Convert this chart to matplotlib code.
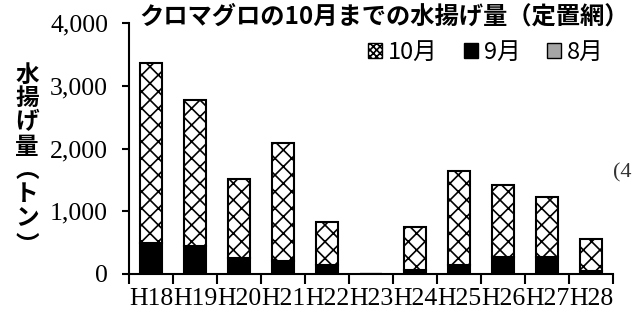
import matplotlib
matplotlib.use("Agg")
import matplotlib.pyplot as plt
from matplotlib.patches import Patch
import numpy as np

categories = ["H18", "H19", "H20", "H21", "H22", "H23", "H24", "H25", "H26", "H27", "H28"]
aug = [0, 0, 0, 0, 0, 0, 0, 0, 0, 0, 0]
sep = [500, 450, 260, 215, 145, 0, 70, 150, 270, 270, 50]
oct_ = [2870, 2320, 1250, 1865, 680, 0, 675, 1490, 1145, 955, 500]
yticks = [0, 1000, 2000, 3000, 4000]
title = "クロマグロの10月までの水揚げ量（定置網）"
ylabel_chars = ["水", "揚", "げ", "量", "︵", "ト", "ン", "︶"]

plt.rcParams['hatch.color'] = '#444444'
plt.rcParams['hatch.linewidth'] = 1.2

W, H = 633, 311
fig = plt.figure(figsize=(W / 100, H / 100), dpi=100)
ax = fig.add_axes([129 / W, 1 - 274 / H, (613 - 129) / W, (274 - 23) / H])

x = np.arange(len(categories))
aug_a = np.array(aug, float)
sep_a = np.array(sep, float)
oct_a = np.array(oct_, float)
bw = 0.52
ax.bar(x, aug_a, bw, color='#a6a6a6', edgecolor='black', linewidth=1.5)
ax.bar(x, sep_a, bw, bottom=aug_a, color='black', edgecolor='black', linewidth=1.5)
ax.bar(x, oct_a, bw, bottom=aug_a + sep_a, color='white', edgecolor='black',
       linewidth=1.5, hatch='xx')

ax.set_xlim(-0.5, len(categories) - 0.5)
ax.set_ylim(0, 4000)
ax.set_yticks(yticks)
ax.set_yticklabels([f"{v:,}" for v in yticks], fontfamily='Liberation Serif', fontsize=18.5)
ax.set_xticks(x)
ax.set_xticklabels(categories, fontfamily='Liberation Serif', fontsize=18.5)
ax.set_xticks(np.arange(-0.5, len(categories)), minor=True)
ax.tick_params(axis='x', which='major', length=0, pad=10)
ax.tick_params(axis='x', which='minor', length=7, width=1.5, direction='out')
ax.tick_params(axis='y', length=5, width=1.5, direction='out', pad=10)
for s in ['top', 'right']:
    ax.spines[s].set_visible(False)
for s in ['left', 'bottom']:
    ax.spines[s].set_linewidth(1.5)

fig.text(384 / W, 1 - 17 / H, title, ha='center', va='center', fontsize=17.5,
         fontweight='bold', family=['Noto Sans CJK JP', 'DejaVu Sans'])

# vertical y label
ys = [75, 98, 122, 147, 170, 194, 218, 246]
for ch, yy in zip(ylabel_chars, ys):
    fig.text(27 / W, 1 - yy / H, ch, ha='center', va='center', fontsize=17,
             fontweight='bold', family=['Noto Sans CJK JP', 'DejaVu Sans'])

fig.text(613 / W, 1 - 173 / H, "(4", ha='left', va='center', fontsize=16,
         family='Liberation Serif', color='#333333')

handles = [Patch(facecolor='white', edgecolor='black', hatch='xxxxx', linewidth=1),
           Patch(facecolor='black', edgecolor='black', linewidth=1),
           Patch(facecolor='#a6a6a6', edgecolor='black', linewidth=1)]
labels = ["10月", "9月", "8月"]
leg = fig.legend(handles, labels, loc='center', bbox_to_anchor=(486 / W, 1 - 52 / H),
                 ncol=3, frameon=False, handlelength=0.6, handleheight=0.6,
                 handletextpad=0.25, columnspacing=1.1,
                 prop={'family': ['Noto Sans CJK JP', 'DejaVu Sans'], 'size': 17})

fig.savefig("out.png", dpi=100)
